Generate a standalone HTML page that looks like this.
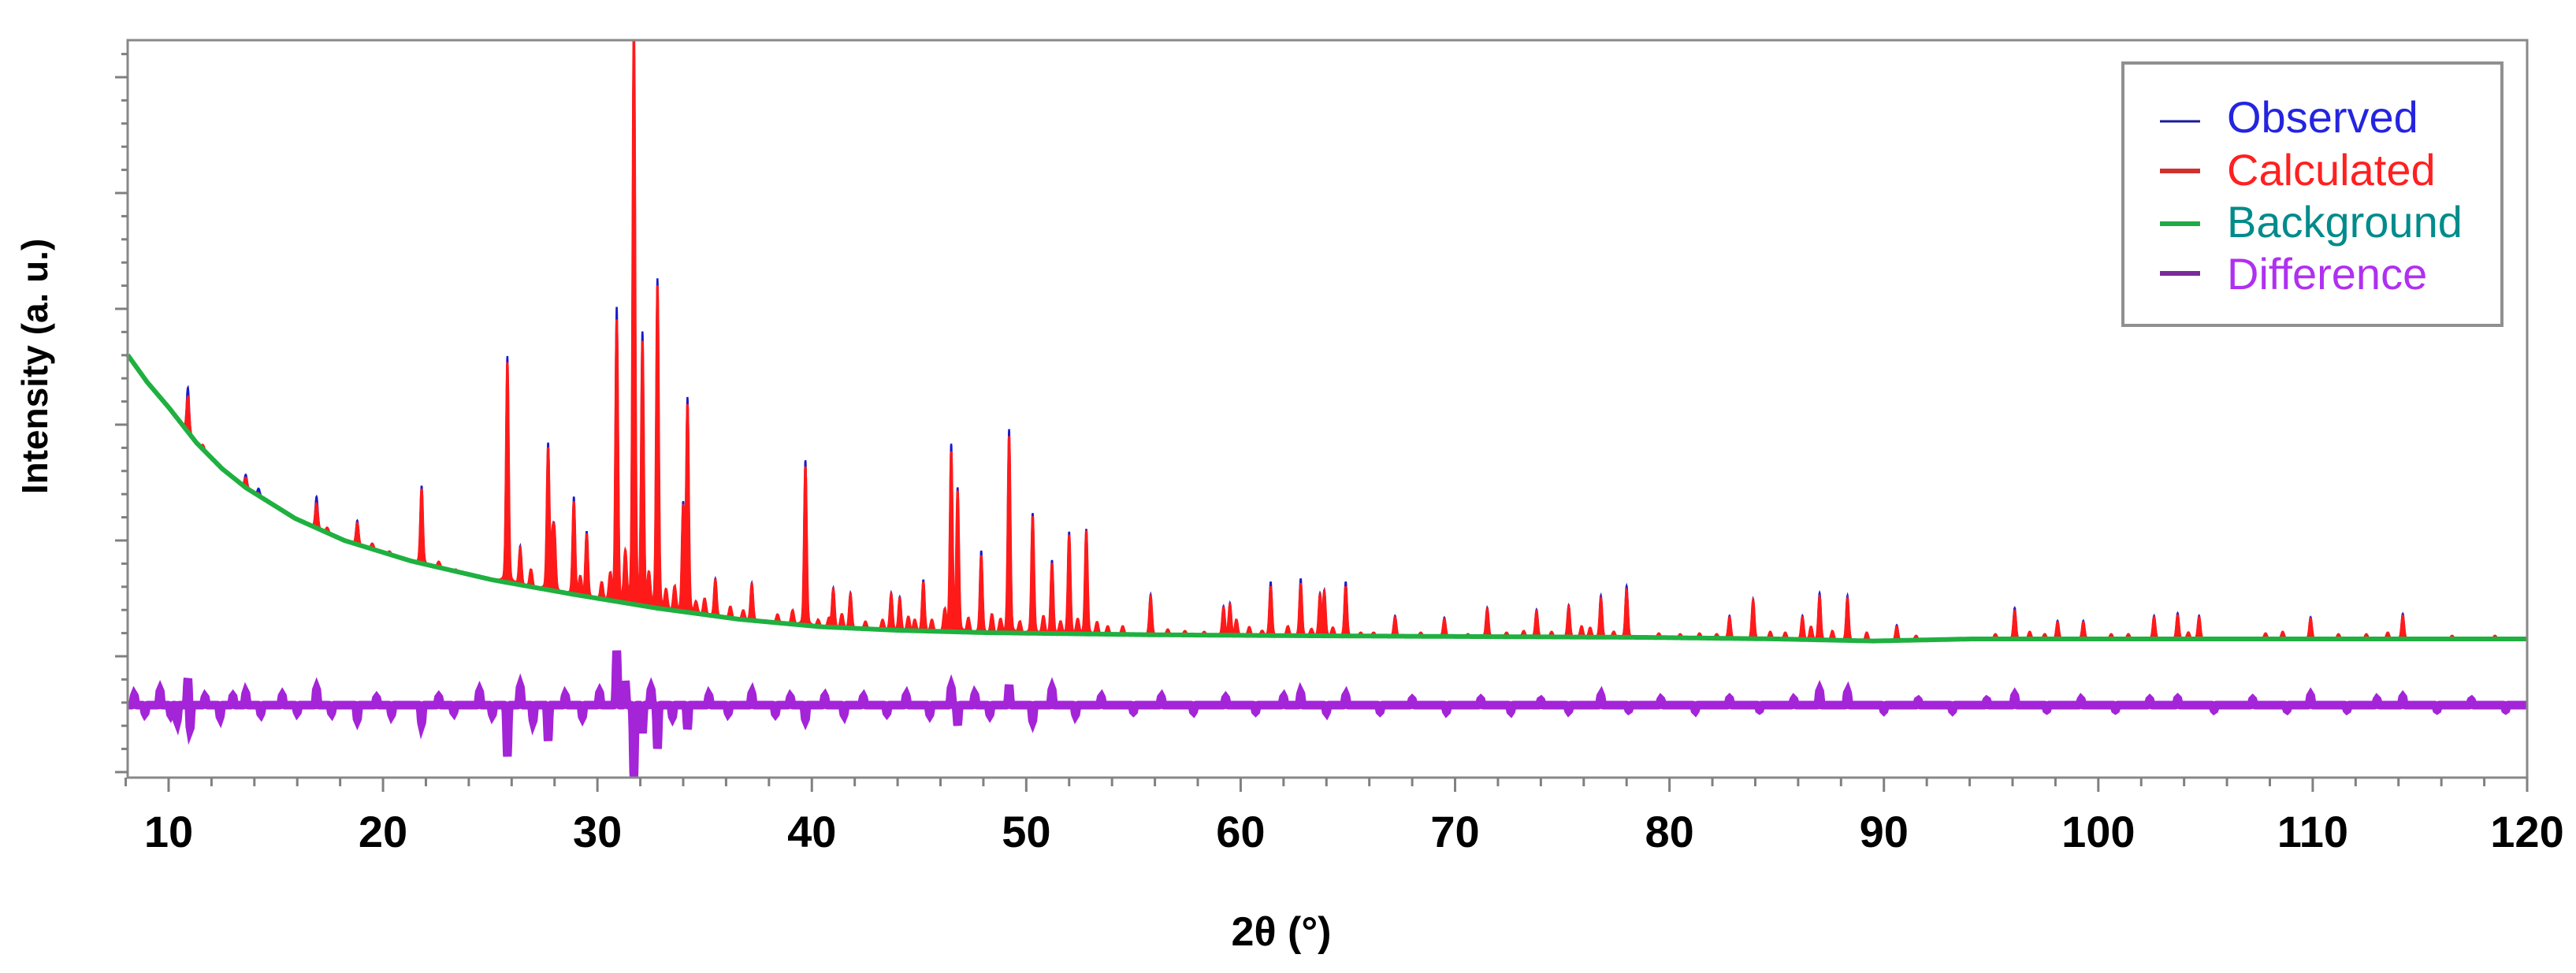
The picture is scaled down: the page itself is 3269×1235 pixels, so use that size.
<!DOCTYPE html>
<html><head><meta charset="utf-8"><style>
html,body{margin:0;padding:0;background:#fff;}
svg{display:block;font-family:"Liberation Sans",Arial,sans-serif;}
</style></head><body>
<svg id="chart" width="3269" height="1235" viewBox="0 0 3269 1235" xmlns="http://www.w3.org/2000/svg">
<g id="plot"></g>
<g id="axes"></g>
<text x="0" y="0" transform="translate(60,465) rotate(-90)" text-anchor="middle" font-size="46" font-weight="bold" fill="#000">Intensity (a. u.)</text>
<text x="1626" y="1200" text-anchor="middle" font-size="52" font-weight="bold" fill="#000">2θ (°)</text>
<g>
<rect x="2694" y="80" width="481" height="333" fill="#fff" stroke="#909090" stroke-width="4"/>
<g><line x1="2741" y1="154" x2="2792" y2="154" stroke="#1a1a9a" stroke-width="3"/><text x="2826" y="168" font-size="56" fill="#2424e0">Observed</text></g>
<g><line x1="2741" y1="217" x2="2792" y2="217" stroke="#d03030" stroke-width="6"/><text x="2826" y="235" font-size="56" fill="#ff2020">Calculated</text></g>
<g><line x1="2741" y1="284" x2="2792" y2="284" stroke="#22aa44" stroke-width="6"/><text x="2826" y="301" font-size="56" fill="#008b8b">Background</text></g>
<g><line x1="2741" y1="347" x2="2792" y2="347" stroke="#7a2a9a" stroke-width="6"/><text x="2826" y="367" font-size="56" fill="#b030f0">Difference</text></g>
</g>
</svg>
<script>
// ---- data ----
const xTickLabels = [10,20,30,40,50,60,70,80,90,100,110,120];
const bgPos = [8.09,9,10,11.3,12.5,13.6,15.9,18.2,21.3,25.1,28.9,32.8,36.6,40.4,44,48.1,55.8,63.4,78.8,85,89.5,94.1,120];
const bgVal = [4445,4100,3780,3330,3000,2760,2370,2090,1830,1590,1405,1230,1090,995,950,920,893,880,860,840,814,840,840];
const peakPos = [10.9,13.6,14.2,16.9,18.8,21.8,25.8,26.4,27.7,28.0,28.9,29.5,30.9,31.7,32.1,32.8,34.0,34.2,35.5,37.2,39.7,41.0,41.8,43.7,44.1,45.2,46.5,46.8,47.9,49.2,50.3,51.2,52.0,52.8,55.8,59.2,59.5,61.4,62.8,63.7,63.9,64.9,67.2,69.5,71.5,73.8,75.3,76.8,78.0,82.8,83.9,86.2,87.0,88.3,90.6,96.1,98.1,99.3,102.6,103.7,104.7,109.9,114.2];
const peakVal = [3909,2885,2689,2555,2311,2744,4350,1980,3263,2058,2586,2177,4894,8700,4579,5327,2492,3791,1586,1531,3027,1468,1405,1405,1350,1562,3200,2700,1900,3413,2397,1800,2161,2216,1373,1232,1271,1507,1547,1389,1428,1507,1114,1090,1216,1192,1247,1350,1452,1114,1326,1114,1373,1350,995,1192,1050,1050,1114,1137,1114,1098,1130];
const minorPos = [11.6,12.2,15.1,17.4,19.5,20.3,22.6,23.4,24.2,26.9,27.9,29.2,30.2,30.6,31.3,32.4,33.2,33.6,34.6,35.0,36.2,36.8,38.4,39.1,40.3,40.8,41.4,42.5,43.3,44.5,44.8,45.6,46.2,47.3,48.4,48.8,49.7,50.8,51.6,52.4,53.3,53.8,54.5,56.6,57.4,58.3,59.8,60.4,61.0,62.2,63.3,64.3,65.6,66.2,68.4,70.6,72.4,73.2,74.5,75.9,76.3,77.4,79.5,80.5,81.4,82.2,84.7,85.4,86.6,87.6,89.2,91.5,95.2,96.8,97.5,100.6,101.4,104.2,107.8,108.6,111.2,112.5,113.5,116.5,118.5];
const minorVal = [3300,3050,2520,2250,2050,1950,1820,1720,1660,1720,2050,1620,1560,1650,1900,1640,1450,1500,1300,1350,1250,1200,1150,1200,1080,1100,1150,1060,1080,1120,1080,1080,1200,1100,1150,1080,1050,1120,1050,1080,1050,1000,1000,960,940,930,1080,990,940,1000,960,980,920,920,920,900,920,940,930,1000,980,930,910,900,910,900,930,920,990,940,920,880,900,930,900,900,900,920,910,930,900,900,920,880,880];
const obsExtra = [120,40,60,90,30,40,80,30,60,20,60,30,160,0,120,90,40,90,20,20,80,20,20,20,20,30,100,40,60,90,40,40,40,20,30,20,20,60,60,20,20,60,20,20,20,20,20,40,60,20,20,20,50,40,20,40,20,20,20,30,20,20,30];
const diffPos = [8.4,8.9,9.6,10.1,10.4,10.9,11.0,11.7,12.4,13.0,13.6,14.3,15.3,16.0,16.9,17.6,18.8,19.7,20.4,21.8,22.6,23.3,24.5,25.1,25.8,26.4,27.0,27.7,28.5,29.3,30.1,30.9,31.3,31.7,32.1,32.5,32.8,33.5,34.2,35.2,36.1,37.2,38.3,39.0,39.7,40.6,41.5,42.4,43.5,44.4,45.5,46.5,46.8,47.6,48.3,49.2,50.3,51.2,52.3,53.5,55.0,56.3,57.8,59.3,60.7,62.0,62.8,64.0,64.9,66.5,68.0,69.6,71.2,72.6,74.0,75.3,76.8,78.1,79.6,81.2,82.8,84.2,85.8,87.0,88.3,90.0,91.6,93.2,94.8,96.1,97.6,99.2,100.8,102.4,103.7,105.4,107.2,108.8,109.9,111.6,113.0,114.2,115.8,117.4,119.0];
const diffVal = [120,-100,180,-120,-200,340,-300,100,-150,110,150,-110,120,-90,200,-100,-180,90,-120,-230,100,-90,170,-120,-650,230,-200,-450,120,-150,160,690,300,-900,-350,200,-550,-150,-300,120,-100,150,-110,100,-180,110,-120,100,-100,120,-120,220,-250,130,-120,250,-200,200,-120,100,-80,100,-80,90,-80,100,150,-90,120,-80,70,-80,70,-80,60,-70,120,-60,70,-70,80,-60,70,180,160,-70,60,-70,60,120,-60,70,-60,70,80,-60,70,-60,120,-60,70,100,-60,60,-60];

// ---- scales ----
const X0=162,X1=3207,Y0=51,Y1=987, D0=8.09, D1=120;
const sx = d => X0 + (d-D0)/(D1-D0)*(X1-X0);
const sy = v => 895 - v*0.1;
const NS='http://www.w3.org/2000/svg';
function mk(tag, attrs, parent){const e=document.createElementNS(NS,tag);for(const k in attrs)e.setAttribute(k,attrs[k]);parent.appendChild(e);return e;}
function bg(d){for(let i=0;i<bgPos.length-1;i++){if(d<=bgPos[i+1]){const t=(d-bgPos[i])/(bgPos[i+1]-bgPos[i]);return bgVal[i]+t*(bgVal[i+1]-bgVal[i]);}}return bgVal[bgVal.length-1];}
const amps = peakPos.map((p,i)=>peakVal[i]-bg(p));
const mAmps = minorPos.map((p,i)=>Math.max(0,minorVal[i]-bg(p)));
const sig=0.055;
function calc(d,extra){let s=bg(d);
  for(let i=0;i<peakPos.length;i++){const dd=d-peakPos[i];if(Math.abs(dd)<0.6){const a=amps[i]+(extra?obsExtra[i]:0);s+=a*0.9*Math.exp(-dd*dd/(2*sig*sig))+a*0.1/(1+(dd/0.1)**2);}}
  for(let i=0;i<minorPos.length;i++){const dd=d-minorPos[i];if(Math.abs(dd)<0.4){s+=mAmps[i]*Math.exp(-dd*dd/(2*0.06*0.06));}}
  return s;}
function diffF(d){let s=0;for(let i=0;i<diffPos.length;i++){const dd=d-diffPos[i];if(Math.abs(dd)<0.3)s+=diffVal[i]*Math.exp(-dd*dd/(2*0.035*0.035));}return s;}
const xs=[];for(let d=D0;d<=D1;d+=0.02)xs.push(d);
peakPos.concat(diffPos).forEach(p=>xs.push(p));
xs.sort((a,b)=>a-b);
function pts(f){return xs.map(d=>[sx(d),Math.max(Y0,sy(f(d)))]);}
function path(f){return pts(f).map((p,i)=>(i?'L':'M')+p[0].toFixed(1)+' '+p[1].toFixed(1)).join('');}
function band(f){const a=pts(f),b=pts(bg).reverse();return a.concat(b).map((p,i)=>(i?'L':'M')+p[0].toFixed(1)+' '+p[1].toFixed(1)).join('')+'Z';}
const plot=document.getElementById('plot');
let e;
e=mk('path',{d:band(d=>calc(d,true)),fill:'#1a1acc',stroke:'#1a1acc','stroke-width':2.5},plot);


e=mk('path',{d:band(d=>calc(d,false)),fill:'#ff1a1a',stroke:'#ff1a1a','stroke-width':3},plot);


e=mk('path',{d:path(bg),fill:'none',stroke:'#1fb040','stroke-width':6,'stroke-linejoin':'round'},plot);


e=mk('path',{d:path(d=>diffF(d)),fill:'none',stroke:'#a424d8','stroke-width':11,'stroke-linejoin':'miter'},plot);



// ---- axes ----
const ax=document.getElementById('axes');
e=mk('rect',{x:X0,y:Y0,width:X1-X0,height:Y1-Y0,fill:'none',stroke:'#888','stroke-width':3},ax);


for(let v=8;v<=120;v+=2){
  const major=v%10===0;
  e=mk('line',{x1:sx(v),x2:sx(v),y1:Y1,y2:Y1+(major?18:11),stroke:'#808080','stroke-width':3},ax);
  
  
}
xTickLabels.forEach(v=>{
  e=mk('text',{x:sx(v),y:1075,'text-anchor':'middle','font-size':56,'font-weight':'bold',fill:'#000'},ax);
  e.textContent=v;
  
  
});
for(let k=-1;k<=31;k++){
  const v=7970-294*k; const y=sy(v);
  if(y<Y0+5||y>Y1-3)continue;
  const major=(k%5===0);
  e=mk('line',{x1:X0-(major?16:8),x2:X0,y1:y,y2:y,stroke:'#808080','stroke-width':3},ax);
  
  
}
</script>
</body></html>
